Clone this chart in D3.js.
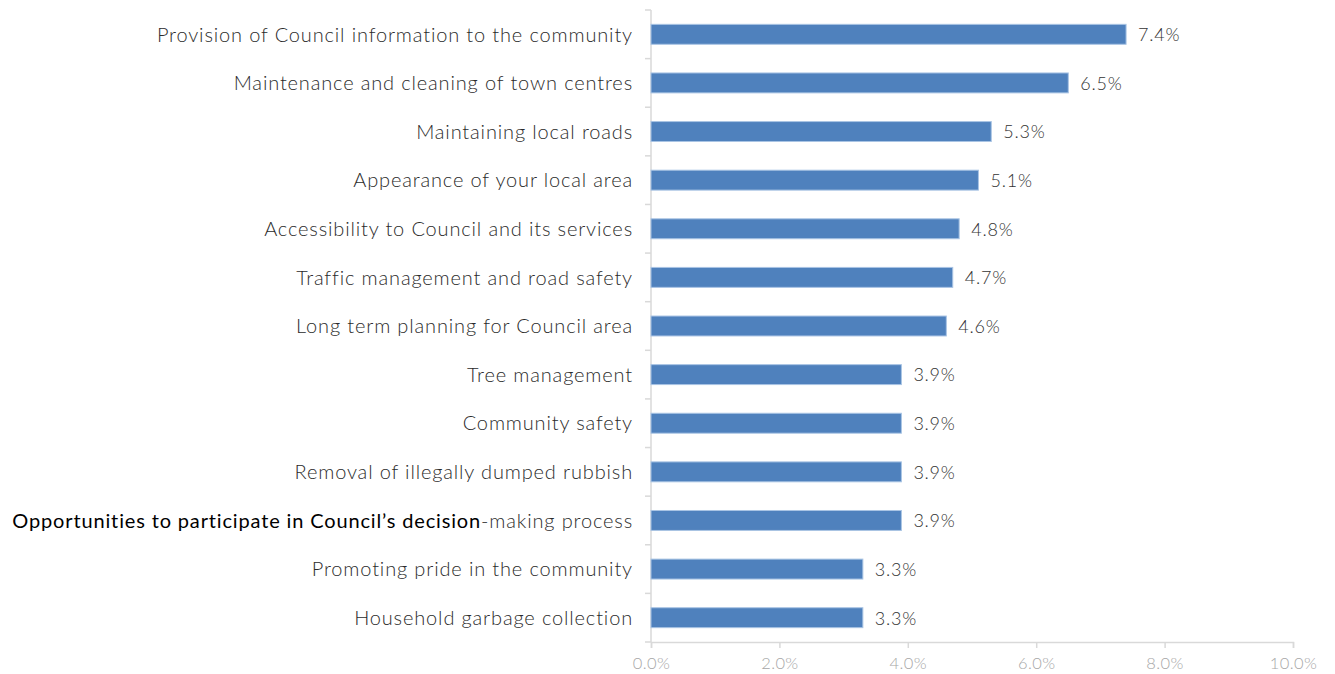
<!DOCTYPE html>
<html>
<head>
<meta charset="utf-8">
<script src="https://cdn.jsdelivr.net/npm/d3@7/dist/d3.min.js"></script>
<style>
  html, body { margin: 0; padding: 0; background: #ffffff; }
  svg { display: block; }
</style>
</head>
<body>
<svg id="chart" width="1335" height="674"></svg>
<script>
// Services ranked by share of responses
const categories = [
  "Provision of Council information to the community",
  "Maintenance and cleaning of town centres",
  "Maintaining local roads",
  "Appearance of your local area",
  "Accessibility to Council and its services",
  "Traffic management and road safety",
  "Long term planning for Council area",
  "Tree management",
  "Community safety",
  "Removal of illegally dumped rubbish",
  "Opportunities to participate in Council\u2019s decision-making process",
  "Promoting pride in the community",
  "Household garbage collection"
];
const values = [7.4, 6.5, 5.3, 5.1, 4.8, 4.7, 4.6, 3.9, 3.9, 3.9, 3.9, 3.3, 3.3];
const xTicks = [0, 2, 4, 6, 8, 10];

const svg = d3.select("#chart");
const FONT = "Lato, 'Open Sans', sans-serif";

const x = d3.scaleLinear().domain([0, 10]).range([651, 1293]);
const y = d3.scaleBand().domain(categories).range([10, 642]).paddingInner(0.59).paddingOuter(0.295);

const axisColor = "#d9d9d9";

// Vertical category axis with ticks at band boundaries
const step = y.step();
const bounds = d3.range(categories.length + 1).map(i => 10 + i * step);
svg.append("line")
  .attr("x1", x(0)).attr("x2", x(0))
  .attr("y1", 10).attr("y2", 642)
  .attr("stroke", axisColor).attr("stroke-width", 1.5);
svg.selectAll(".ytick").data(bounds).join("line")
  .attr("x1", x(0) - 6).attr("x2", x(0))
  .attr("y1", d => d).attr("y2", d => d)
  .attr("stroke", axisColor).attr("stroke-width", 1.5);

// Horizontal value axis
const xAxis = d3.axisBottom(x)
  .tickValues(xTicks)
  .tickSize(6)
  .tickPadding(9)
  .tickFormat(d => d.toFixed(1) + "%");
const gx = svg.append("g").attr("transform", "translate(0,642)").call(xAxis);
gx.select(".domain").attr("stroke", axisColor).attr("stroke-width", 1.5);
gx.selectAll(".tick line").attr("stroke", axisColor).attr("stroke-width", 1.5);
gx.selectAll(".tick text")
  .attr("fill", "#a6a6a6")
  .style("font-family", FONT)
  .style("font-size", "16.5px")
  .style("font-weight", 300)
  .style("letter-spacing", "0.4px");

// Bars
svg.selectAll(".bar").data(categories).join("rect")
  .attr("x", x(0))
  .attr("y", d => y(d))
  .attr("width", (d, i) => x(values[i]) - x(0))
  .attr("height", y.bandwidth())
  .attr("fill", "#4f81bd")
  .attr("stroke", "#a9c4e4")
  .attr("stroke-width", 1);

// Value labels
svg.selectAll(".val").data(categories).join("text")
  .attr("x", (d, i) => x(values[i]) + 12)
  .attr("y", d => y(d) + y.bandwidth() / 2)
  .attr("dy", "0.38em")
  .attr("fill", "#333333")
  .style("font-family", FONT)
  .style("font-size", "18px")
  .style("font-weight", 300)
  .style("letter-spacing", "0.8px")
  .text((d, i) => values[i].toFixed(1) + "%");

// Category labels
const labels = svg.selectAll(".cat").data(categories).join("text")
  .attr("x", x(0) - 18)
  .attr("y", d => y(d) + y.bandwidth() / 2)
  .attr("dy", "0.36em")
  .attr("text-anchor", "end")
  .attr("fill", "#2b2b2b")
  .style("font-family", FONT)
  .style("font-size", "20px")
  .style("font-weight", 300)
  .style("letter-spacing", "0.85px");

labels.each(function(d) {
  const t = d3.select(this);
  const split = d.indexOf("-making");
  if (split > 0) {
    t.append("tspan").text(d.slice(0, split))
      .attr("fill", "#000000").style("font-weight", 400);
    t.append("tspan").text(d.slice(split));
  } else {
    t.text(d);
  }
});
</script>
</body>
</html>
